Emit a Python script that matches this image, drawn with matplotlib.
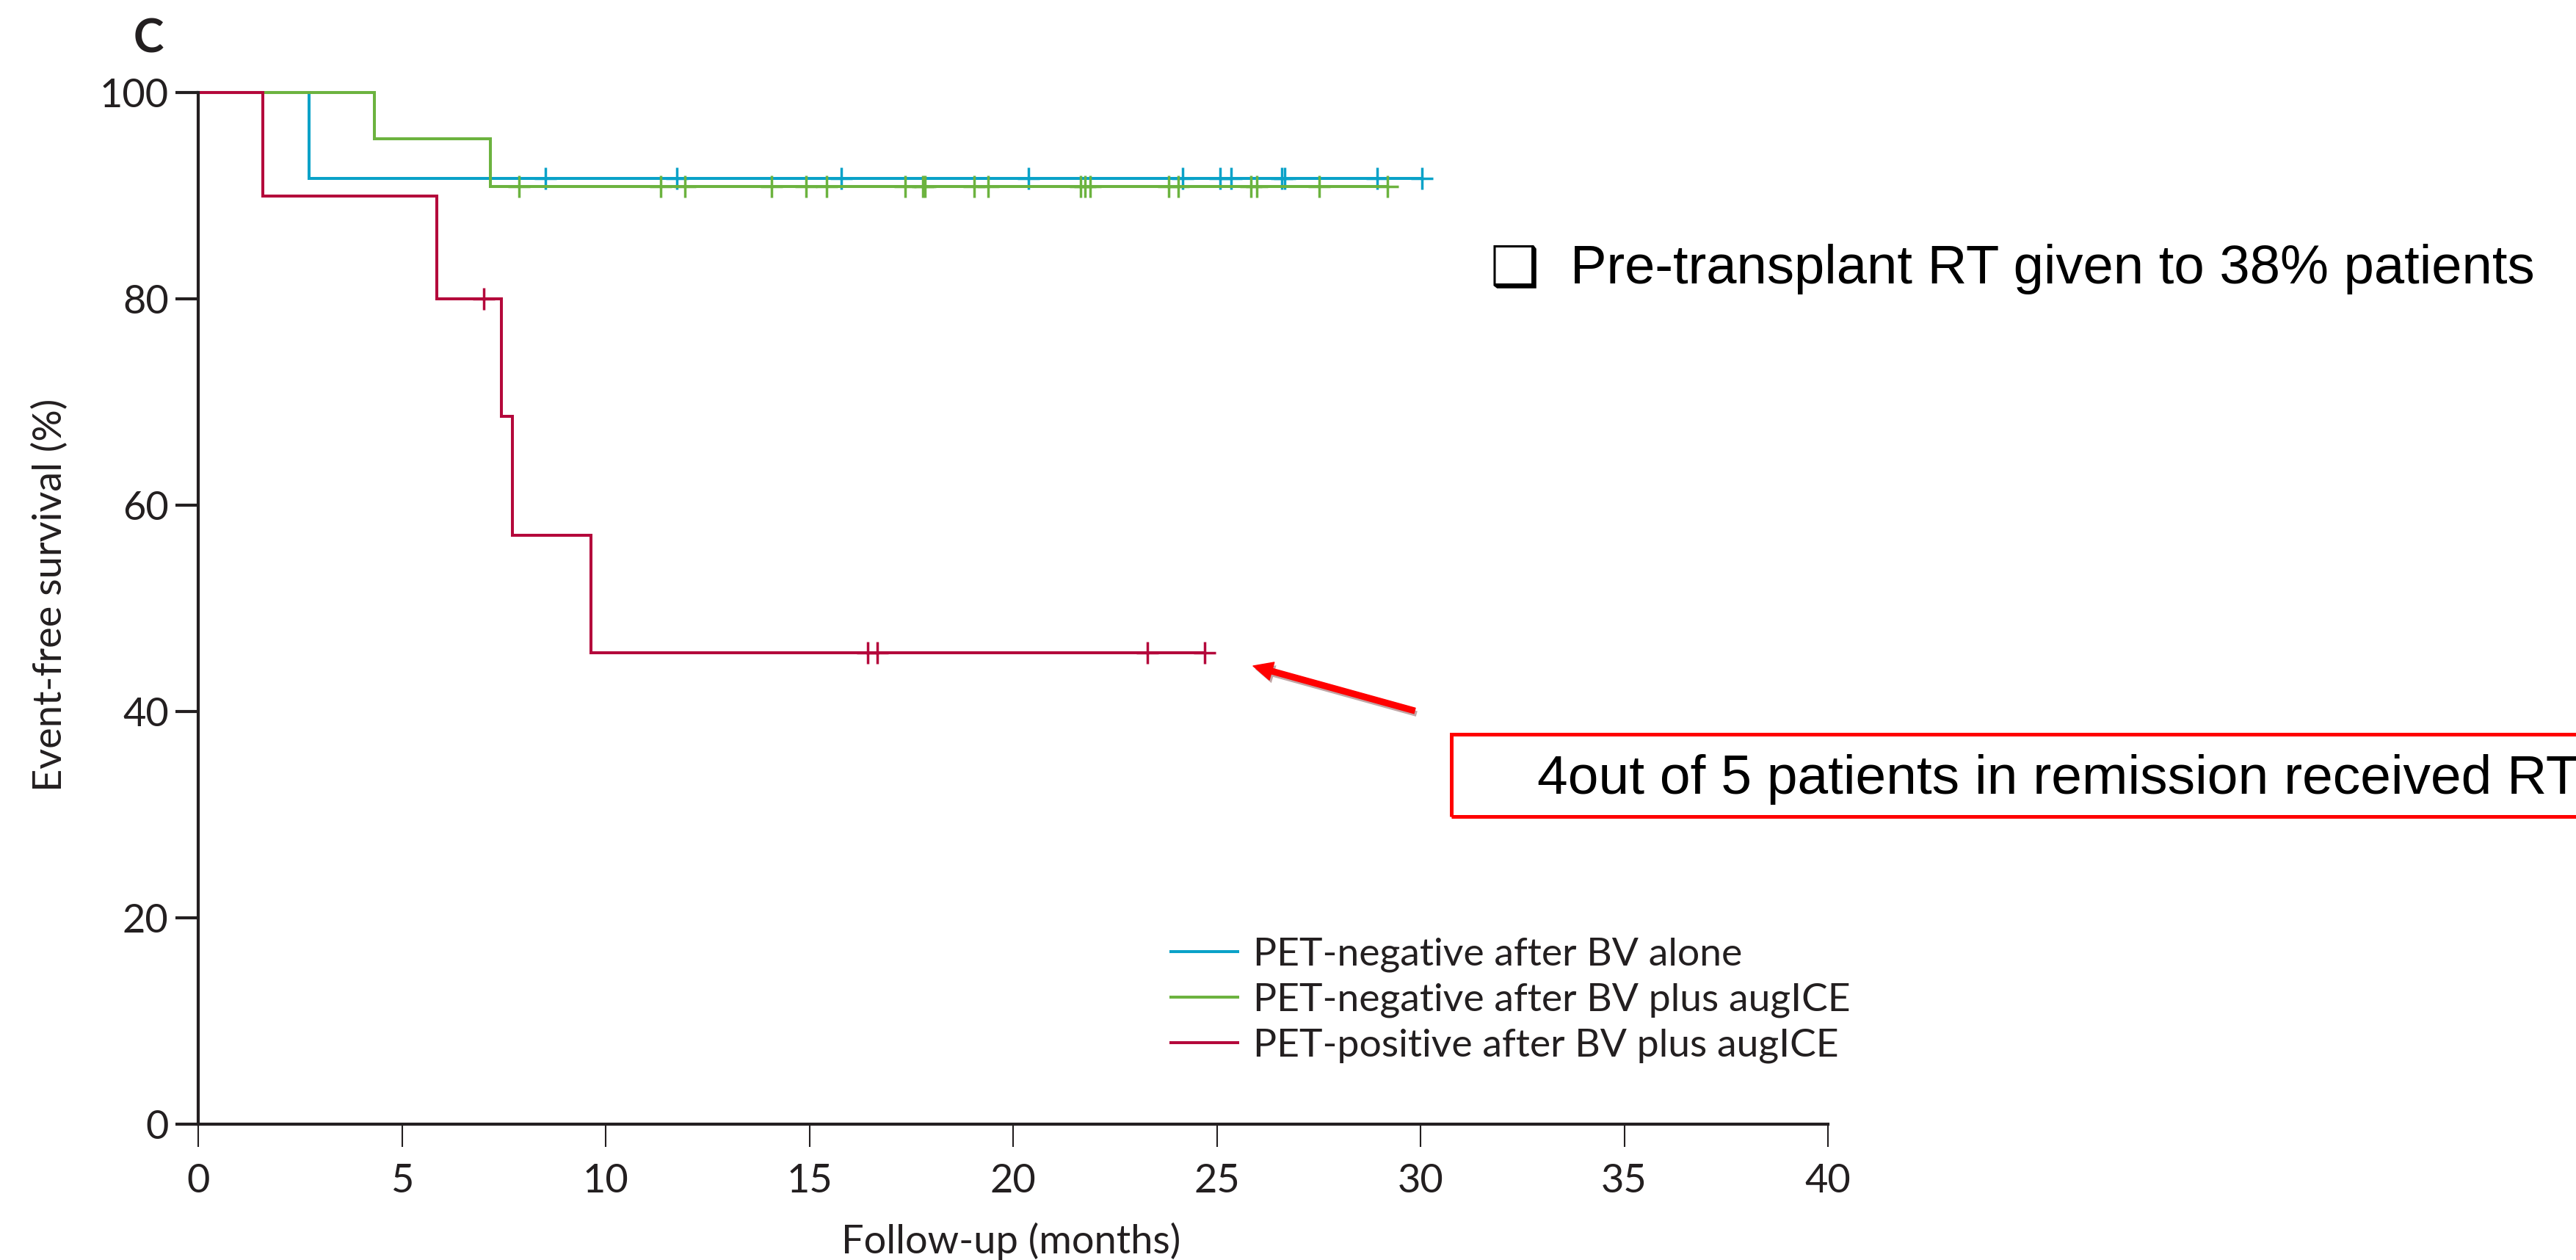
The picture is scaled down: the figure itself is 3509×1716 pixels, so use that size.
import numpy as np
import matplotlib
matplotlib.use("Agg")
import matplotlib.pyplot as plt
from matplotlib.patches import Rectangle, FancyArrowPatch
import matplotlib.patheffects as pe

# Kaplan-Meier steps (months, % event-free)
blue_t = [0, 2.72]
blue_s = [100, 91.7]
blue_cens = [8.53, 11.75, 15.78, 20.37, 24.17, 25.09, 25.36, 26.60, 26.66, 28.93, 30.04]

green_t = [0, 4.33, 7.17]
green_s = [100, 95.5, 90.9]
green_cens = [7.88, 11.36, 11.95, 14.07, 14.91, 15.42, 17.36, 17.78, 17.84, 19.04,
              19.39, 21.66, 21.76, 21.89, 23.82, 24.05, 25.83, 25.98, 27.52, 29.19]

red_t = [0, 1.58, 5.86, 7.44, 7.71, 9.64]
red_s = [100, 90.0, 80.0, 68.6, 57.1, 45.7]
red_cens = [7.0, 16.43, 16.66, 23.3, 24.7]

labels = ["PET-negative after BV alone",
          "PET-negative after BV plus augICE",
          "PET-positive after BV plus augICE"]
colors = ["#0aa2c8", "#6cb33f", "#b4083b"]

xticks = [0, 5, 10, 15, 20, 25, 30, 35, 40]
yticks = [0, 20, 40, 60, 80, 100]

W, H = 3509, 1716
ink = "#231f20"
lab_font = "Lato"
note_font = "Liberation Sans"


def px(x, y):
    return (x / W, 1 - y / H)


def level_at(t, s, x):
    i = np.searchsorted(t, x, side="right") - 1
    return np.asarray(s)[i]


fig = plt.figure(figsize=(W / 100, H / 100), dpi=100)
ax = fig.add_axes([270 / W, 1 - 1531 / H, 2220 / W, 1405 / H])

groups = [(blue_t, blue_s, blue_cens), (green_t, green_s, green_cens), (red_t, red_s, red_cens)]
handles = []
for (t, s, c), col, lab in zip(groups, colors, labels):
    end = max(c)
    xs = list(t) + [end]
    ys = list(s) + [s[-1]]
    ln, = ax.step(xs, ys, where="post", color=col, lw=2.9, label=lab,
                  clip_on=False, solid_joinstyle="miter")
    ax.plot(c, level_at(t, s, c), ls="none", marker="+", ms=21, mew=2.5,
            color=col, clip_on=False)
    handles.append(ln)

ax.set_xlim(0, 40)
ax.set_ylim(0, 100)
ax.set_xticks(xticks)
ax.set_yticks(yticks)
for side in ["top", "right"]:
    ax.spines[side].set_visible(False)
for side in ["left", "bottom"]:
    ax.spines[side].set_linewidth(3)
    ax.spines[side].set_color(ink)
ax.tick_params(axis="y", length=22, width=3, pad=7, color=ink, labelcolor=ink)
ax.tick_params(axis="x", length=22, width=1.5, pad=16, color=ink, labelcolor=ink)
for lbl in ax.get_xticklabels() + ax.get_yticklabels():
    lbl.set_fontfamily(lab_font)
    lbl.set_fontsize(39)

ax.legend(handles=handles, loc="upper left", bbox_to_anchor=px(1595, 1277),
          bbox_transform=fig.transFigure, frameon=False, borderpad=0,
          borderaxespad=0, handlelength=1.7, handletextpad=0.4, labelspacing=0.27,
          prop={"family": lab_font, "size": 38.5}, labelcolor=ink)

fig.text(*px(68, 810), "Event-free survival (%)", rotation=90, ha="center", va="center",
         family=lab_font, fontsize=39, color=ink)
fig.text(*px(1377, 1707), "Follow-up (months)", ha="center", va="baseline",
         family=lab_font, fontsize=39, color=ink)
fig.text(*px(182, 72), "C", ha="left", va="baseline", family=lab_font,
         fontweight="bold", fontsize=45, color=ink)

# annotations
fig.text(*px(2030, 388), "\u2751", ha="left", va="baseline", family="DejaVu Sans",
         fontsize=54, fontweight="bold", color="black")
fig.text(*px(2139, 386), "Pre-transplant RT given to 38% patients", ha="left",
         va="baseline", family=note_font, fontsize=53.5, color="black")

box = Rectangle(px(1977, 1112), (3650 - 1977) / W, 112 / H, transform=fig.transFigure,
                fill=False, ec="#ff0000", lw=3.6, clip_on=False)
fig.add_artist(box)
fig.text(*px(2094, 1081), "4out of 5 patients in remission received RT", ha="left",
         va="baseline", family=note_font, fontsize=54, color="black")

arrow = FancyArrowPatch(px(1927, 968), px(1707, 907), transform=fig.transFigure,
                        arrowstyle="simple,head_length=19,head_width=18,tail_width=5.5",
                        mutation_scale=1, shrinkA=0, shrinkB=0, color="#ff0000",
                        path_effects=[pe.SimplePatchShadow(offset=(2, -3), alpha=0.35),
                                      pe.Normal()])
fig.add_artist(arrow)

fig.savefig("out.png", dpi=100)
